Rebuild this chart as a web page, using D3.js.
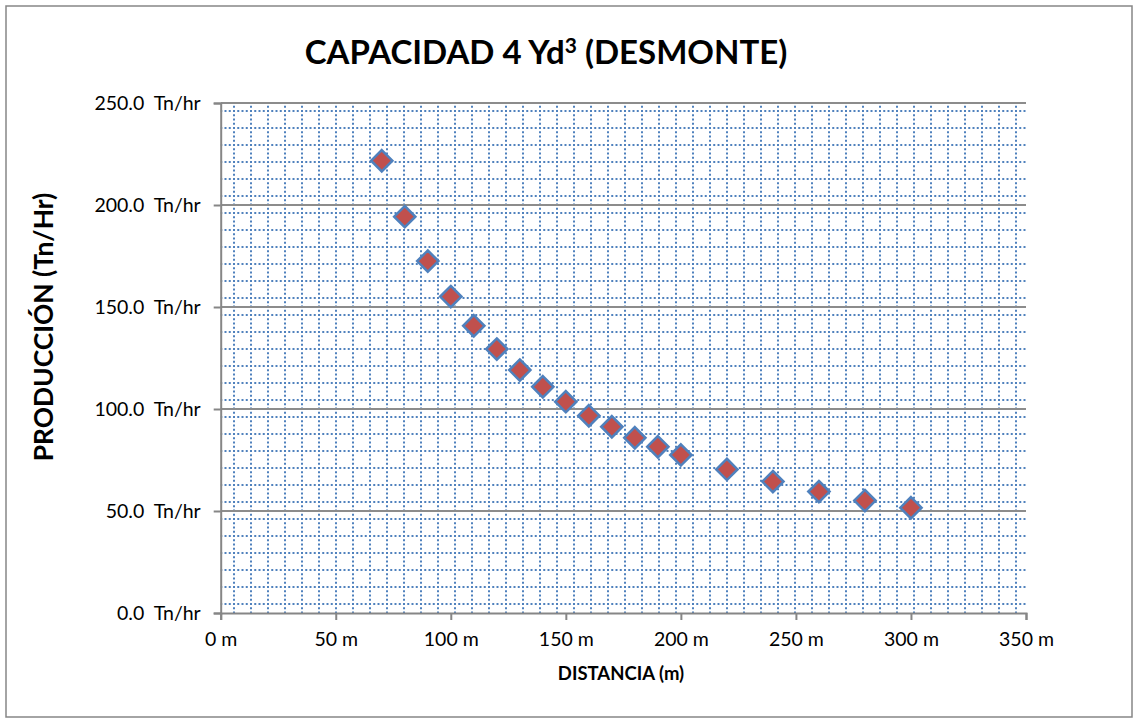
<!DOCTYPE html>
<html>
<head>
<meta charset="utf-8">
<script src="https://cdn.jsdelivr.net/npm/d3@7/dist/d3.min.js"></script>
<style>
  html, body { margin: 0; padding: 0; background: #fff; }
  svg { display: block; }
  text { font-family: Lato, "Open Sans", "Noto Sans", sans-serif; fill: #000; }
</style>
</head>
<body>
<svg id="chart" width="1138" height="723"></svg>
<script>
// Haul distance (m) and production (Tn/hr)
const distances = [70, 80, 90, 100, 110, 120, 130, 140, 150, 160, 170, 180, 190, 200, 220, 240, 260, 280, 300];
const production = [221.7, 194.3, 172.5, 155.1, 140.8, 129.4, 119.1, 110.9, 103.6, 96.7, 91.3, 85.9, 81.5, 77.5, 70.4, 64.4, 59.5, 55.1, 51.6];
const xTicks = [0, 50, 100, 150, 200, 250, 300, 350];
const yTicks = [0, 50, 100, 150, 200, 250];
const titleText = "CAPACIDAD 4 Yd";
const titleTail = " (DESMONTE)";
const xTitle = "DISTANCIA (m)";
const yTitle = "PRODUCCIÓN (Tn/Hr)";

const plot = { left: 220.7, right: 1026, top: 103, bottom: 613 };

const svg = d3.select("#chart");

// outer chart frame
svg.append("rect")
  .attr("x", 6).attr("y", 6).attr("width", 1126).attr("height", 711)
  .attr("fill", "#fff").attr("stroke", "#868686").attr("stroke-width", 1.5);

const x = d3.scaleLinear().domain([0, 350]).range([plot.left, plot.right]);
const y = d3.scaleLinear().domain([0, 250]).range([plot.bottom, plot.top]);

// dotted-grid pattern fill of the plot area
const defs = svg.append("defs");
const pat = defs.append("pattern")
  .attr("id", "dotgrid")
  .attr("patternUnits", "userSpaceOnUse")
  .attr("x", 233).attr("y", 110)
  .attr("width", 17).attr("height", 17);
[0, 4.25, 8.5, 12.75].forEach(o => {
  pat.append("rect").attr("x", o).attr("y", 0).attr("width", 2).attr("height", 2).attr("fill", "#4f81bd");
  pat.append("rect").attr("x", 0).attr("y", o).attr("width", 2).attr("height", 2).attr("fill", "#4f81bd");
});
svg.append("rect")
  .attr("x", plot.left).attr("y", plot.top)
  .attr("width", plot.right - plot.left).attr("height", plot.bottom - plot.top)
  .attr("fill", "url(#dotgrid)");

// major horizontal gridlines
svg.append("g")
  .selectAll("line")
  .data(yTicks.filter(d => d > 0))
  .join("line")
  .attr("x1", plot.left).attr("x2", plot.right)
  .attr("y1", d => y(d)).attr("y2", d => y(d))
  .attr("stroke", "#8c8c8c").attr("stroke-width", 2);

// y axis
const yAxis = svg.append("g")
  .attr("transform", `translate(${plot.left},0)`)
  .call(d3.axisLeft(y).tickValues(yTicks).tickSize(7).tickPadding(13)
    .tickFormat(d => d3.format(".1f")(d) + "\u00a0\u00a0Tn/hr"));
yAxis.select(".domain").attr("stroke", "#868686").attr("stroke-width", 2);
yAxis.selectAll(".tick line").attr("stroke", "#868686").attr("stroke-width", 2);
yAxis.selectAll(".tick text")
  .style("font-family", "Lato, 'Open Sans', sans-serif")
  .attr("font-size", 19.5).attr("fill", "#000");

// x axis
const xAxis = svg.append("g")
  .attr("transform", `translate(0,${plot.bottom})`)
  .call(d3.axisBottom(x).tickValues(xTicks).tickSize(7).tickPadding(12)
    .tickFormat(d => d + " m"));
xAxis.select(".domain").attr("stroke", "#868686").attr("stroke-width", 2);
xAxis.selectAll(".tick line").attr("stroke", "#868686").attr("stroke-width", 2);
xAxis.selectAll(".tick text")
  .style("font-family", "Lato, 'Open Sans', sans-serif")
  .attr("font-size", 19.5).attr("fill", "#000");

// data markers: red diamonds with blue outline
const diamond = d3.symbol().type(d3.symbolDiamond2).size(2 * 12 * 12);
svg.append("g")
  .selectAll("path")
  .data(distances.map((d, i) => ({ d, p: production[i] })))
  .join("path")
  .attr("d", diamond)
  .attr("transform", v => `translate(${x(v.d)},${y(v.p)})`)
  .attr("fill", "#c0504d")
  .attr("stroke", "#4f81bd")
  .attr("stroke-width", 2.5);

// chart title with superscript
const t = svg.append("text")
  .attr("x", 546).attr("y", 64)
  .attr("text-anchor", "middle")
  .attr("font-size", 33).attr("font-weight", "bold");
t.append("tspan").text(titleText);
t.append("tspan").attr("font-size", 21).attr("dy", -11).text("3");
t.append("tspan").attr("dy", 11).text(titleTail);

// axis titles
svg.append("text")
  .attr("x", 621).attr("y", 680)
  .attr("text-anchor", "middle")
  .attr("font-size", 18.5).attr("font-weight", "bold")
  .text(xTitle);

svg.append("text")
  .attr("transform", "translate(53,327) rotate(-90)")
  .attr("text-anchor", "middle")
  .attr("font-size", 26.4).attr("font-weight", "bold")
  .text(yTitle);
</script>
</body>
</html>
